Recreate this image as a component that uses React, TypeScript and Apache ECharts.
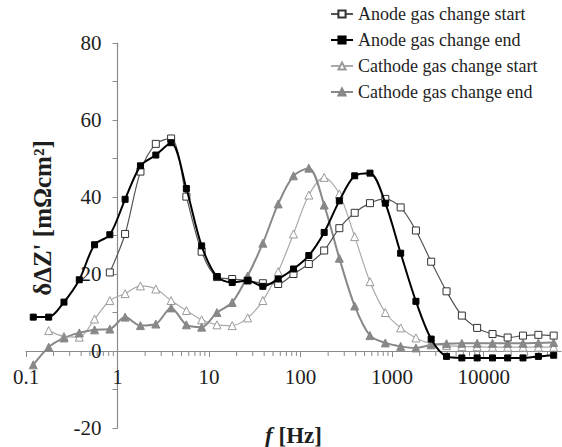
import React, { useEffect, useRef } from "react";
import * as echarts from "echarts";

const FONT = "'Liberation Serif', 'Times New Roman', serif";

// frequencies (Hz)
const freqHz = [0.12, 0.177, 0.26, 0.382, 0.561, 0.824, 1.21, 1.78, 2.62, 3.85, 5.65, 8.3, 12.2, 17.9, 26.4, 38.7, 56.9, 83.6, 123, 181, 265, 390, 573, 843, 1240, 1820, 2670, 3930, 5780, 8490, 12500, 18300, 26900, 39600, 58200];

const anodeStart = [null, null, null, null, null, 20.4, 30.4, 46.6, 53.8, 55.2, 40.1, 25.8, 19.2, 18.7, 18.3, 17.6, 17.4, 20.0, 22.6, 26.1, 31.9, 35.9, 38.4, 39.5, 37.3, 31.3, 23.2, 15.5, 9.2, 6.0, 4.4, 3.5, 4.0, 4.2, 4.0];
const anodeEnd = [8.8, 8.8, 12.7, 18.5, 27.6, 30.2, 39.4, 48.1, 50.9, 54.1, 42.2, 27.3, 19.3, 17.8, 18.3, 16.8, 18.7, 21.3, 24.8, 30.8, 39.0, 45.5, 46.2, 38.4, 25.4, 12.9, 3.1, -1.4, -1.8, -1.8, -1.8, -1.8, -1.8, -1.4, -1.1];
const cathodeStart = [null, 5.3, 3.8, 3.6, 8.3, 13.1, 14.9, 16.9, 16.1, 13.1, 10.5, 8.1, 6.8, 6.6, 8.6, 13.1, 20.6, 30.4, 40.5, 45.1, 40.8, 29.7, 18.0, 10.0, 6.0, 3.4, 1.9, 1.4, 1.2, 1.1, 1.0, 1.0, 1.0, 1.0, 1.0];
const cathodeEnd = [-3.6, 1.0, 3.4, 4.7, 5.5, 5.7, 8.8, 6.6, 7.0, 11.2, 6.8, 6.2, 10.0, 12.6, 19.5, 28.0, 38.2, 45.5, 47.5, 37.9, 24.1, 11.7, 4.0, 2.1, 1.2, 0.8, 1.6, 1.9, 2.0, 2.0, 2.0, 2.0, 2.0, 2.1, 2.2];

const seriesNames = [
  "Anode gas change start",
  "Anode gas change end",
  "Cathode gas change start",
  "Cathode gas change end",
];

const xMajorTicks = [0.1, 1, 10, 100, 1000, 10000];
const xMin = 0.1;
const xMax = 70000;
const yMin = -20;
const yMax = 80;

const GRID_TOP = 43;
const GRID_BOTTOM = 19;
const GRID_H = 447 - GRID_TOP - GRID_BOTTOM;
const GRID_LEFT = 26;
const Y_AXIS_AT_X = 117.5; // pixel where the y axis crosses (f = 1 Hz)

function pairs(vals: (number | null)[]) {
  const out: [number, number][] = [];
  vals.forEach((v, i) => {
    if (v !== null) out.push([freqHz[i], v]);
  });
  return out;
}

function minorTickValues() {
  const out: number[] = [];
  for (const d of xMajorTicks) {
    for (let m = 2; m <= 9; m++) {
      const v = d * m;
      if (v < xMax) out.push(v);
    }
  }
  return out;
}

export default function App() {
  const ref = useRef<HTMLDivElement>(null);
  useEffect(() => {
    if (!ref.current) return;
    const chart = echarts.init(ref.current, null, { renderer: "svg" });
    const axisColor = "#8a8a8a";
    const textColor = "#1e1e1e";
    // x axis sits at y = 0: distance from grid bottom in pixels
    const xAxisLift = (GRID_H * (0 - yMin)) / (yMax - yMin);
    const option: any = {
      animation: false,
      backgroundColor: "#ffffff",
      grid: { left: GRID_LEFT, right: 1, top: GRID_TOP, bottom: GRID_BOTTOM, containLabel: false, outerBoundsMode: "none" },
      legend: {
        data: seriesNames,
        orient: "vertical",
        left: 325,
        top: 0,
        itemWidth: 22,
        itemHeight: 9,
        itemGap: 8,
        textStyle: { fontFamily: FONT, fontSize: 18, color: textColor, lineHeight: 18 },
      },
      xAxis: {
        type: "log",
        logBase: 10,
        min: xMin,
        max: xMax,
        position: "bottom",
        offset: -xAxisLift,
        axisLine: { onZero: false, lineStyle: { color: axisColor, width: 1.2 } },
        axisTick: { show: true, inside: false, length: 6, lineStyle: { color: axisColor }, customValues: xMajorTicks },
        minorTick: { show: false },
        splitLine: { show: false },
        axisLabel: {
          customValues: xMajorTicks,
          margin: 15,
          fontFamily: FONT,
          fontSize: 21,
          color: textColor,
          formatter: (v: number) => {
            const l = Math.log10(v);
            if (Math.abs(l - Math.round(l)) > 1e-6 || v > 20000) return "";
            return String(Number(v.toPrecision(6)));
          },
        },
        name: "{i|f}{b| [Hz]}",
        nameLocation: "middle",
        nameGap: 73,
        nameTextStyle: {
          rich: {
            i: { fontFamily: FONT, fontSize: 23, fontStyle: "italic", fontWeight: "bold", color: textColor },
            b: { fontFamily: FONT, fontSize: 23, fontWeight: "bold", color: textColor },
          },
        },
      },
      yAxis: {
        type: "value",
        min: yMin,
        max: yMax,
        interval: 10,
        offset: -(Y_AXIS_AT_X - GRID_LEFT),
        axisLine: { show: true, onZero: false, lineStyle: { color: axisColor, width: 1.2 } },
        axisTick: { show: true, length: 5, lineStyle: { color: axisColor } },
        splitLine: { show: false },
        axisLabel: {
          margin: 16,
          fontFamily: FONT,
          fontSize: 21,
          color: textColor,
          formatter: (v: number) => (Math.round(v) % 20 === 0 ? String(v) : ""),
        },
      },
      graphic: [
        {
          type: "text",
          x: 42,
          y: 218,
          rotation: Math.PI / 2,
          style: {
            text: "δΔZ' [mΩcm²]",
            fontFamily: FONT,
            fontSize: 25,
            fontWeight: "bold",
            fill: textColor,
            textAlign: "center",
            textVerticalAlign: "middle",
          },
        },
      ],
      series: [
        {
          type: "custom",
          silent: true,
          clip: false,
          z: 1,
          data: minorTickValues().map((v) => [v, 0]),
          renderItem: (params: any, api: any) => {
            const p = api.coord([api.value(0), 0]);
            return {
              type: "line",
              shape: { x1: p[0], y1: p[1], x2: p[0], y2: p[1] + 5 },
              style: { stroke: axisColor, lineWidth: 1 },
            };
          },
        },
        {
          name: seriesNames[0],
          type: "line",
          data: pairs(anodeStart),
          smooth: 0.3,
          symbol: "rect",
          symbolSize: 7,
          lineStyle: { color: "#555555", width: 1.2 },
          itemStyle: { color: "#ffffff", borderColor: "#333333", borderWidth: 1 },
          z: 3,
        },
        {
          name: seriesNames[1],
          type: "line",
          data: pairs(anodeEnd),
          smooth: 0.3,
          symbol: "rect",
          symbolSize: 6,
          lineStyle: { color: "#000000", width: 2 },
          itemStyle: { color: "#000000", borderColor: "#000000", borderWidth: 1 },
          z: 4,
        },
        {
          name: seriesNames[2],
          type: "line",
          data: pairs(cathodeStart),
          smooth: 0.3,
          symbol: "triangle",
          symbolSize: 8,
          lineStyle: { color: "#aaaaaa", width: 1.2 },
          itemStyle: { color: "#ffffff", borderColor: "#999999", borderWidth: 1 },
          z: 2,
        },
        {
          name: seriesNames[3],
          type: "line",
          data: pairs(cathodeEnd),
          smooth: 0.3,
          symbol: "triangle",
          symbolSize: 8,
          lineStyle: { color: "#888888", width: 2 },
          itemStyle: { color: "#888888", borderColor: "#888888", borderWidth: 1 },
          z: 2,
        },
      ],
    };
    chart.setOption(option);
    return () => chart.dispose();
  }, []);
  return (
    <div
      ref={ref}
      style={{ position: "fixed", left: 0, top: 0, width: 562, height: 447, background: "#fff" }}
    />
  );
}
